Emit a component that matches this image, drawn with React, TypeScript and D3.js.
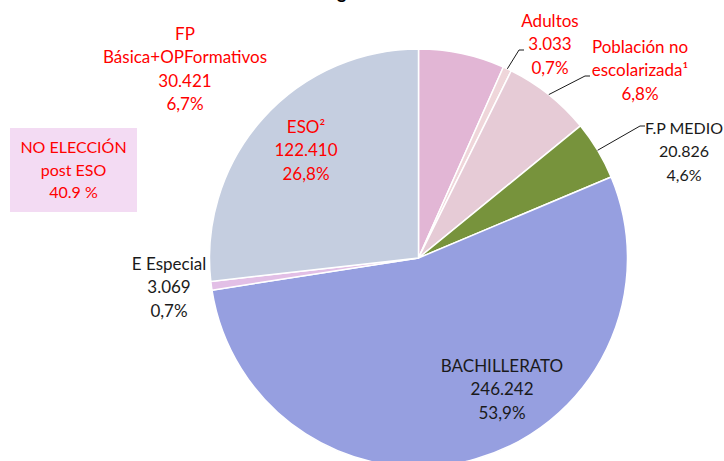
import React from 'react';
import * as d3 from 'd3';

// categories, clockwise from 12 o'clock
const categories = ['FP Básica+OPFormativos', 'Adultos', 'Población no escolarizada', 'F.P MEDIO', 'BACHILLERATO', 'E Especial', 'ESO'];
const values = [30421, 3033, 31000, 20826, 246242, 3069, 122410];
const colors = ['#E2B6D5', '#EFD6DA', '#E6CBD6', '#77933C', '#969FE0', '#E2BFE6', '#C5CEE0'];

// label lines as printed on the chart
const labelLines = [
  ['FP', 'Básica+OPFormativos', '30.421', '6,7%'],
  ['Adultos', '3.033', '0,7%'],
  ['Población no', 'escolarizada¹', '6,8%'],
  ['F.P MEDIO', '20.826', '4,6%'],
  ['BACHILLERATO', '246.242', '53,9%'],
  ['E Especial', '3.069', '0,7%'],
  ['ESO²', '122.410', '26,8%'],
];
const labelColors = ['#FF0000', '#FF0000', '#FF0000', '#1a1a1a', '#1a1a1a', '#1a1a1a', '#FF0000'];
// label anchor (center x, first baseline) and optional leader elbow
const labelPos: [number, number][] = [[185, 40], [550, 27], [640, 53], [684, 134], [502, 372], [169, 270], [306, 133]];
const labelSize = [17, 17, 17, 16, 17, 17, 17];
const leaders: ([number, number] | null)[] = [null, [519, 50], [585, 76], [640, 126], null, null, null];

const legendLines = ['NO ELECCIÓN', 'post ESO', '40.9 %'];

const W = 724;
const H = 461;
const cx = 418.5;
const cy = 258;
const R = 209;
const font = 'Lato, "Open Sans", sans-serif';

export default function App() {
  const pie = d3.pie<number>().sort(null).value(d => d);
  const arcs = pie(values);
  const arc = d3.arc<d3.PieArcDatum<number>>().innerRadius(0).outerRadius(R);
  const edge = d3.arc<d3.PieArcDatum<number>>().innerRadius(R).outerRadius(R);

  return (
    <svg width={W} height={H} style={{ position: 'absolute', left: 0, top: 0, background: '#fff' }}>
      {/* title, mostly cut off above the frame as in the original */}
      <text x={337} y={-1} textAnchor="end" fontFamily={font} fontWeight="bold" fontSize={18}>Distribución del alumnado se</text>
      <text x={337} y={-1} fontFamily={font} fontWeight="bold" fontSize={18}>gún enseñanza</text>

      <g transform={`translate(${cx},${cy})`}>
        {arcs.map((a, i) => (
          <path key={categories[i]} d={arc(a) as string} fill={colors[i]} stroke="#fff" strokeWidth={1.5} />
        ))}
      </g>

      {arcs.map((a, i) => {
        const elbow = leaders[i];
        if (!elbow) return null;
        const [sx, sy] = edge.centroid(a);
        return (
          <polyline key={'l' + i} fill="none" stroke="#1a1a1a" strokeWidth={1}
            points={`${cx + sx},${cy + sy} ${elbow[0]},${elbow[1]} ${elbow[0] + 5},${elbow[1]}`} />
        );
      })}

      {labelLines.map((lines, i) => (
        <text key={'t' + i} x={labelPos[i][0]} y={labelPos[i][1]} textAnchor="middle"
          fontFamily={font} fontSize={labelSize[i]} fill={labelColors[i]}>
          {lines.map((s, j) => (
            <tspan key={j} x={labelPos[i][0]} dy={j === 0 ? 0 : 23.3}>{s}</tspan>
          ))}
        </text>
      ))}

      <rect x={10} y={128} width={127} height={84} fill="#F3DBF3" />
      <text x={73.5} y={153} textAnchor="middle" fontFamily={font} fontSize={16} fill="#FF0000">
        {legendLines.map((s, j) => (
          <tspan key={j} x={73.5} dy={j === 0 ? 0 : 22.5}>{s}</tspan>
        ))}
      </text>
    </svg>
  );
}
